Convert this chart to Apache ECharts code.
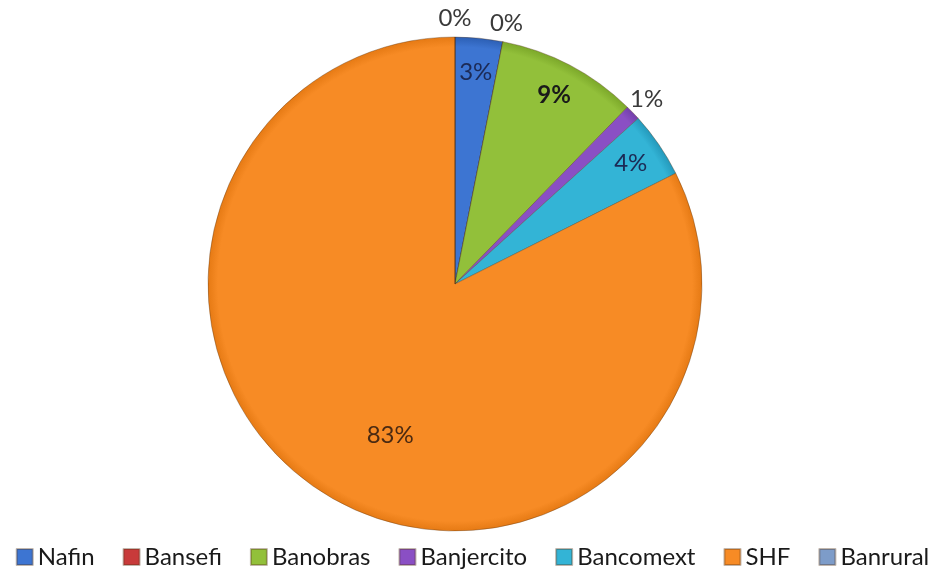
<!DOCTYPE html>
<html>
<head>
<meta charset="utf-8">
<script src="https://cdn.jsdelivr.net/npm/echarts@6/dist/echarts.min.js"></script>
<style>
  html, body { margin: 0; padding: 0; background: #ffffff; }
  #chart { width: 945px; height: 571px; }
</style>
</head>
<body>
<div id="chart"></div>
<script>
// Share of each development bank (percent)
const banks = ['Nafin', 'Bansefi', 'Banobras', 'Banjercito', 'Bancomext', 'SHF', 'Banrural'];
const shares = [3.1, 0, 9.2, 1.0, 4.3, 82.4, 0];
const shownLabels = ['3%', '0%', '9%', '1%', '4%', '83%', '0%'];

// Base colours and rim shade for each slice
const baseColors = ['#3d75d2', '#c83a3a', '#92c03a', '#8a4fc4', '#33b4d6', '#f78b25', '#7d9cc9'];
const edgeColors = ['#2c5fb4', '#a82a2a', '#7ca82a', '#7340aa', '#2499bb', '#e67a14', '#6a88b6'];
// where each slice's label sits: 'rim' (inside near edge), 'mid', 'out'
const labelRing = ['rim', 'out', 'rim', 'out', 'rim', 'mid', 'out'];
const labelColors = ['#1c2a55', '#3a3a3a', '#1a1a1a', '#3a3a3a', '#1c2a55', '#4a2a12', '#3a3a3a'];
const labelBold = [false, false, true, false, false, false, false];

const R = 247;
const center = [455, 284];
const font = 'Lato, "Open Sans", sans-serif';

const chart = echarts.init(document.getElementById('chart'));

function mainData() {
  return banks.map((name, i) => ({
    name,
    value: shares[i],
    itemStyle: {
      color: {
        type: 'radial', x: center[0], y: center[1], r: R, global: true,
        colorStops: [
          { offset: 0, color: baseColors[i] },
          { offset: 0.96, color: baseColors[i] },
          { offset: 1, color: edgeColors[i] }
        ]
      }
    }
  }));
}

function labelData(ring) {
  return banks.map((name, i) => ({
    name,
    value: shares[i],
    label: {
      show: labelRing[i] === ring,
      color: labelColors[i],
      fontWeight: labelBold[i] ? 'bold' : 'normal'
    }
  }));
}

function labelSeries(ring, c, inner, outer) {
  return {
    type: 'pie',
    center: c,
    radius: [inner, outer],
    startAngle: 90,
    clockwise: true,
    silent: true,
    legendHoverLink: false,
    itemStyle: { color: 'rgba(0,0,0,0)', borderWidth: 0 },
    label: {
      position: 'inside',
      fontFamily: font,
      fontSize: 24,
      formatter: p => shownLabels[p.dataIndex]
    },
    labelLine: { show: false },
    emphasis: { disabled: true },
    data: labelData(ring)
  };
}

chart.setOption({
  animation: false,
  color: baseColors,
  legend: {
    top: 545,
    left: 'center',
    padding: 0,
    itemWidth: 16,
    itemHeight: 16,
    itemGap: 28,
    icon: 'rect',
    textStyle: { fontFamily: font, fontSize: 24, color: '#1a1a1a' },
    data: banks.map((name, i) => ({ name, itemStyle: { color: baseColors[i] } }))
  },
  series: [
    {
      type: 'pie',
      center,
      radius: [0, R],
      startAngle: 90,
      clockwise: true,
      label: { show: false },
      labelLine: { show: false },
      itemStyle: { borderColor: 'rgba(80,50,20,0.35)', borderWidth: 1 },
      emphasis: { disabled: true },
      data: mainData()
    },
    labelSeries('rim', center, R * 0.7, R * 1.0),
    labelSeries('mid', [480, 290], 96, 240),
    labelSeries('out', center, R * 1.0, R * 1.13)
  ]
});
</script>
</body>
</html>
